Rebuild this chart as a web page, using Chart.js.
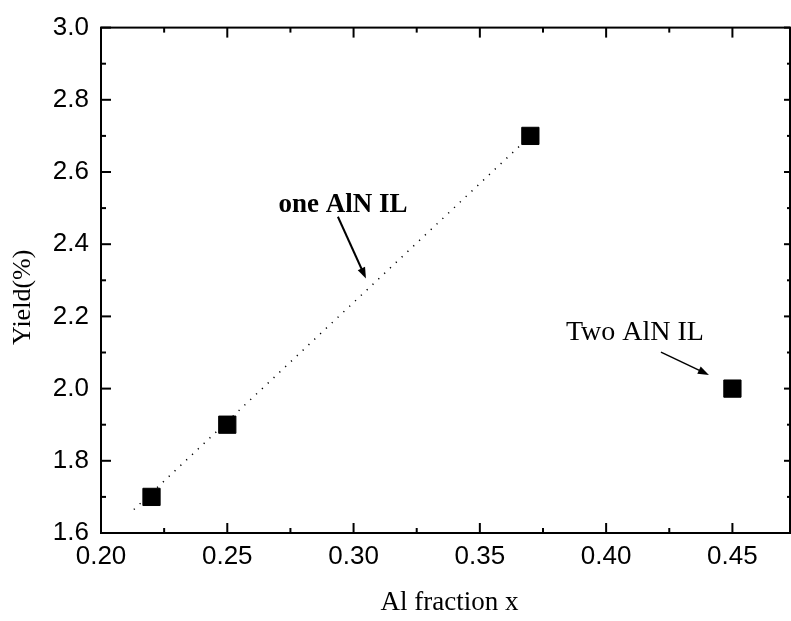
<!DOCTYPE html>
<html>
<head>
<meta charset="utf-8">
<script src="https://cdn.jsdelivr.net/npm/chart.js@4.4.1/dist/chart.umd.min.js"></script>
<style>
  html, body { margin: 0; padding: 0; background: #fff; }
  #wrap { width: 791px; height: 621px; }
</style>
</head>
<body>
<div id="wrap"><canvas id="c" width="791" height="621"></canvas></div>
<script>
// ---- data ----
const alFraction = [0.22, 0.25, 0.37, 0.45];
const yieldPct   = [1.70, 1.90, 2.70, 2.00];
const fitX = [0.213, 0.370];
const fitY = [1.665, 2.700];
const xTicks = [0.20, 0.25, 0.30, 0.35, 0.40, 0.45];
const xMinorTicks = [0.225, 0.275, 0.325, 0.375, 0.425];
const yTicks = [1.6, 1.8, 2.0, 2.2, 2.4, 2.6, 2.8, 3.0];
const yMinorTicks = [1.7, 1.9, 2.1, 2.3, 2.5, 2.7, 2.9];
const xTitle = 'Al fraction x';
const yTitle = 'Yield(%)';
const notes = [
  { text: 'one AlN IL', bold: true,  at: [0.2958, 2.509], from: [0.2938, 2.476], to: [0.3049, 2.305] },
  { text: 'Two AlN IL', bold: false, at: [0.4114, 2.154], from: [0.4217, 2.101], to: [0.4407, 2.038] }
];

const SANS = '"Liberation Sans", Arial, sans-serif';
const SERIF = '"Liberation Serif", "Times New Roman", serif';

const framePlugin = {
  id: 'framePlugin',
  afterDraw(chart) {
    const { ctx, chartArea: a, scales: { x, y } } = chart;
    ctx.save();
    ctx.strokeStyle = '#000';
    ctx.fillStyle = '#000';
    ctx.lineWidth = 2;
    ctx.strokeRect(a.left, a.top, a.right - a.left, a.bottom - a.top);
    const seg = (x1, y1, x2, y2) => { ctx.beginPath(); ctx.moveTo(x1, y1); ctx.lineTo(x2, y2); ctx.stroke(); };
    xTicks.forEach(v => { const p = x.getPixelForValue(v); seg(p, a.bottom, p, a.bottom - 10); seg(p, a.top, p, a.top + 10); });
    xMinorTicks.forEach(v => { const p = x.getPixelForValue(v); seg(p, a.bottom, p, a.bottom - 5); seg(p, a.top, p, a.top + 5); });
    yTicks.forEach(v => { const p = y.getPixelForValue(v); seg(a.left, p, a.left + 10, p); seg(a.right, p, a.right - 6, p); });
    yMinorTicks.forEach(v => { const p = y.getPixelForValue(v); seg(a.left, p, a.left + 5, p); seg(a.right, p, a.right - 3, p); });

    // axis titles
    ctx.textAlign = 'center';
    ctx.textBaseline = 'middle';
    ctx.font = '27px ' + SERIF;
    ctx.fillText(xTitle, (a.left + a.right) / 2 + 4, 603);
    ctx.save();
    ctx.translate(23, (a.top + a.bottom) / 2 + 17);
    ctx.rotate(-Math.PI / 2);
    ctx.font = '26px ' + SERIF;
    ctx.fillText(yTitle, 0, 0);
    ctx.restore();

    // annotations
    notes.forEach(n => {
      ctx.font = (n.bold ? 'bold ' : '') + (n.bold ? '27px ' : '28px ') + SERIF;
      ctx.fillText(n.text, x.getPixelForValue(n.at[0]), y.getPixelForValue(n.at[1]));
      const x1 = x.getPixelForValue(n.from[0]), y1 = y.getPixelForValue(n.from[1]);
      const x2 = x.getPixelForValue(n.to[0]), y2 = y.getPixelForValue(n.to[1]);
      const ang = Math.atan2(y2 - y1, x2 - x1);
      const hl = 11, hw = 4;
      ctx.lineWidth = n.bold ? 2 : 1.5;
      seg(x1, y1, x2 - Math.cos(ang) * hl * 0.8, y2 - Math.sin(ang) * hl * 0.8);
      ctx.beginPath();
      ctx.moveTo(x2, y2);
      ctx.lineTo(x2 - Math.cos(ang) * hl + Math.sin(ang) * hw, y2 - Math.sin(ang) * hl - Math.cos(ang) * hw);
      ctx.lineTo(x2 - Math.cos(ang) * hl - Math.sin(ang) * hw, y2 - Math.sin(ang) * hl + Math.cos(ang) * hw);
      ctx.closePath();
      ctx.fill();
    });
    ctx.restore();
  }
};

new Chart(document.getElementById('c'), {
  type: 'scatter',
  data: {
    datasets: [
      {
        type: 'line',
        data: fitX.map((v, i) => ({ x: v, y: fitY[i] })),
        borderColor: '#000',
        borderWidth: 1.5,
        borderDash: [1.2, 6.8],
        pointRadius: 0,
        fill: false,
        tension: 0
      },
      {
        data: alFraction.map((v, i) => ({ x: v, y: yieldPct[i] })),
        pointStyle: 'rect',
        pointRadius: 12.2,
        backgroundColor: '#000',
        borderColor: '#000',
        borderWidth: 1,
        showLine: false
      }
    ]
  },
  options: {
    responsive: false,
    animation: false,
    layout: { autoPadding: false, padding: { top: 25, right: 1, left: 0, bottom: 0 } },
    plugins: { legend: { display: false }, tooltip: { enabled: false } },
    scales: {
      x: {
        type: 'linear',
        min: 0.2,
        max: 0.4728,
        afterBuildTicks: s => { s.ticks = xTicks.map(v => ({ value: v })); },
        afterFit: s => { s.height = 88; },
        grid: { display: false, drawTicks: false },
        border: { display: false },
        ticks: { color: '#000', font: { family: SANS, size: 26 }, padding: 8, maxRotation: 0, callback: v => Number(v).toFixed(2) }
      },
      y: {
        type: 'linear',
        min: 1.6,
        max: 3.0,
        afterBuildTicks: s => { s.ticks = yTicks.map(v => ({ value: v })); },
        afterFit: s => { s.width = 101; },
        grid: { display: false, drawTicks: false },
        border: { display: false },
        ticks: { color: '#000', font: { family: SANS, size: 26 }, padding: 12, callback: v => Number(v).toFixed(1) }
      }
    }
  },
  plugins: [framePlugin]
});
</script>
</body>
</html>
